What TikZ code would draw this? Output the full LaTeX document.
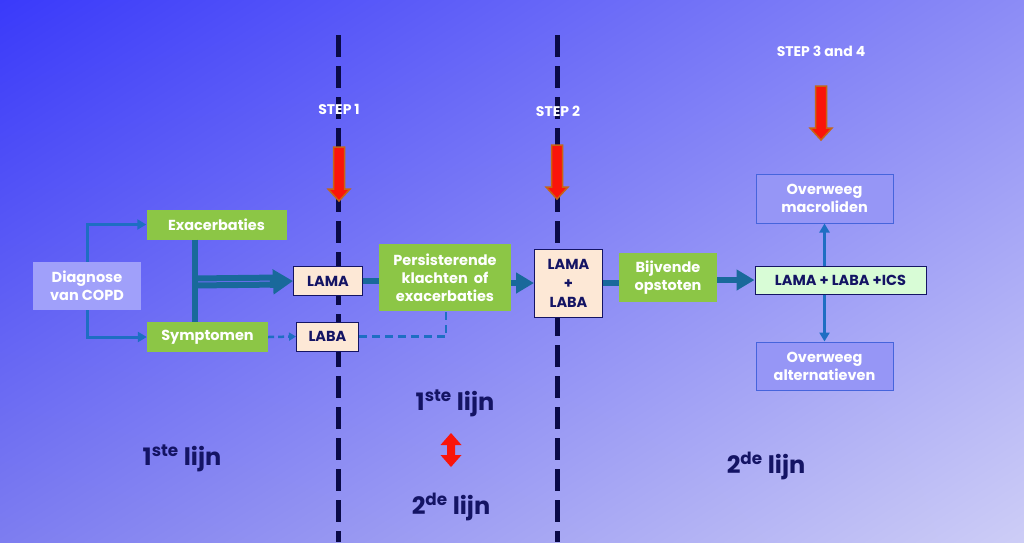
\documentclass[tikz,border=0pt]{standalone}
\usepackage{fontspec}
\setmainfont{Poppins}
\usetikzlibrary{arrows.meta,shadings}
\definecolor{bgUL}{RGB}{58,58,250}
\definecolor{bgUR}{RGB}{140,140,246}
\definecolor{bgLL}{RGB}{125,125,240}
\definecolor{bgLR}{RGB}{205,205,246}
\definecolor{navy}{RGB}{20,20,100}
\definecolor{dashnavy}{RGB}{10,10,70}
\definecolor{gbox}{RGB}{140,198,70}
\definecolor{peach}{RGB}{253,232,214}
\definecolor{mint}{RGB}{216,252,214}
\definecolor{lavbox}{RGB}{160,160,250}
\definecolor{ovfill}{RGB}{150,150,246}
\definecolor{ovline}{RGB}{70,100,220}
\definecolor{linkblue}{RGB}{30,110,195}
\definecolor{tealc}{RGB}{25,105,155}
\definecolor{redarr}{RGB}{250,20,10}
\definecolor{orangeedge}{RGB}{200,100,20}
\tikzset{
  greenbox/.style={fill=gbox, text=white, font=\bfseries\fontsize{14.5}{17}\selectfont, align=center, inner sep=0pt},
  peachbox/.style={fill=peach, draw=navy, line width=1pt, text=navy, font=\bfseries\fontsize{14.5}{17}\selectfont, align=center, inner sep=0pt},
  lavnode/.style={fill=lavbox, text=white, font=\bfseries\fontsize{14.5}{18}\selectfont, align=center, inner sep=0pt},
  overbox/.style={fill=ovfill, draw=ovline, line width=1pt, text=white, font=\bfseries\fontsize{14.5}{18}\selectfont, align=center, inner sep=0pt},
  steplabel/.style={text=white, font=\bfseries\fontsize{14}{16}\selectfont},
  lijnlabel/.style={text=navy, font=\bfseries\fontsize{24}{26}\selectfont},
  bluelink/.style={draw=linkblue, line width=3pt, -{Triangle[length=9pt,width=10pt]}},
  teallink/.style={draw=tealc, line width=6pt},
  tealarrow/.style={draw=tealc, line width=6pt, -{Triangle[length=18pt,width=20pt]}},
  dashlink/.style={draw=linkblue, line width=2.5pt, dash pattern=on 8pt off 5pt},
  divider/.style={draw=dashnavy, line width=5pt, dash pattern=on 22pt off 9pt},
  redfill/.style={fill=redarr, draw=orangeedge, line width=1.5pt, line join=miter},
}
\begin{document}
\begin{tikzpicture}[x=1pt,y=-1pt]
\useasboundingbox (0,0) rectangle (1024,542);
\shade[upper left=bgUL, upper right=bgUR, lower left=bgLL, lower right=bgLR] (0,0) rectangle (1024,542);

% dividers
\coordinate (d1t) at (338,35); \coordinate (d1b) at (338,542);
\coordinate (d2t) at (557,35); \coordinate (d2b) at (557,542);
\draw[divider] (d1t) -- (d1b);
\draw[divider] (d2t) -- (d2b);

% step labels
\node[steplabel] (s1) at (339,109) {STEP 1};
\node[steplabel] (s2) at (558,111) {STEP 2};
\node[steplabel] (s34) at (821,51) {STEP 3 and 4};

% red down arrows
\foreach \cx/\ty/\by in {339/147/201, 557/145/199, 821/86/140}{
  \filldraw[redfill] (\cx-5.5,\ty) -- (\cx+5.5,\ty) -- (\cx+5.5,\by-12) -- (\cx+11,\by-12) -- (\cx,\by) -- (\cx-11,\by-12) -- (\cx-5.5,\by-12) -- cycle;
}

% nodes
\node[lavnode, minimum width=108pt, minimum height=48pt] (diag) at (87,286) {Diagnose\\van COPD};
\node[greenbox, minimum width=140pt, minimum height=30pt] (exa) at (216.5,224.5) {Exacerbaties};
\node[greenbox, minimum width=121pt, minimum height=30pt] (sym) at (207.5,337) {Symptomen};
\node[peachbox, minimum width=69pt, minimum height=29pt] (lama) at (328,281) {LAMA};
\node[peachbox, minimum width=62pt, minimum height=29pt] (laba) at (327.5,336.5) {LABA};
\node[greenbox, minimum width=132pt, minimum height=67pt, font=\bfseries\fontsize{14.5}{18}\selectfont] (pers) at (445,277.5) {Persisterende\\klachten~ of\\exacerbaties};
\node[peachbox, minimum width=68pt, minimum height=68pt, font=\bfseries\fontsize{14.5}{19}\selectfont] (ll) at (568.5,283) {LAMA\\+\\LABA};
\node[greenbox, minimum width=98pt, minimum height=49pt, font=\bfseries\fontsize{14.5}{18}\selectfont] (bij) at (668,277.5) {Bijvende\\opstoten};
\node[fill=mint, draw=navy, line width=1pt, text=navy, font=\bfseries\fontsize{14.5}{17}\selectfont, inner sep=0pt, minimum width=171pt, minimum height=28pt] (ics) at (840.5,280) {LAMA + LABA +ICS};
\node[overbox, minimum width=137pt, minimum height=49pt] (macro) at (824.5,198.5) {Overweeg\\macroliden};
\node[overbox, minimum width=137pt, minimum height=48pt] (alt) at (824.5,366) {Overweeg\\alternatieven};

% diagnose links
\draw[bluelink] (diag.north) |- (exa.west);
\draw[bluelink] (diag.south) |- (sym.west);

% thick merge
\coordinate (jx) at (194.5,282);
\draw[teallink] (exa.south -| jx) -- (sym.north -| jx);
\draw[draw=tealc, line width=6pt] ([yshift=-3.5pt]jx) -- ([yshift=-3.5pt]lama.west -| 280,0);
\draw[draw=tealc, line width=6pt] ([yshift=3.5pt]jx) -- ([yshift=3.5pt]lama.west -| 280,0);
\draw[tealarrow, line width=12pt, -{Triangle[length=20pt,width=24pt]}] (jx -| 270,0) -- (lama.west);

% symptomen to laba
\draw[dashlink, draw=linkblue, -{Triangle[length=7pt,width=8pt]}, dash pattern=on 6pt off 4pt] (sym.east) -- (laba.west);

% lama to persisterende
\draw[teallink] (lama.east) -- (lama.east -| pers.west);
% laba dashed to persisterende
\coordinate (dl) at (446,336.5);
\draw[dashlink] (laba.east) -- (dl) -- (dl |- pers.south);

% pers to lama+laba
\draw[tealarrow] (pers.east |- ll.west) -- (ll.west);
\draw[teallink] (ll.east) -- (ll.east -| bij.west);
\draw[tealarrow] (bij.east |- ics.west) -- (ics.west);

% ics to overweeg
\draw[bluelink, line width=2.5pt] (ics.north -| macro.south) -- (macro.south);
\draw[bluelink, line width=2.5pt] (ics.south -| alt.north) -- (alt.north);

% lijn labels
\node[lijnlabel] (l1a) at (182,458) {1\textsuperscript{ste} lijn};
\node[lijnlabel] (l1b) at (455,403) {1\textsuperscript{ste} lijn};
\node[lijnlabel] (l2a) at (451,507) {2\textsuperscript{de} lijn};
\node[lijnlabel] (l2b) at (766,466) {2\textsuperscript{de} lijn};

% red double arrow
\fill[redarr] (451,433) -- (461.5,445) -- (455,445) -- (455,455) -- (461.5,455) -- (451,467) -- (440.5,455) -- (447,455) -- (447,445) -- (440.5,445) -- cycle;
\end{tikzpicture}
\end{document}
